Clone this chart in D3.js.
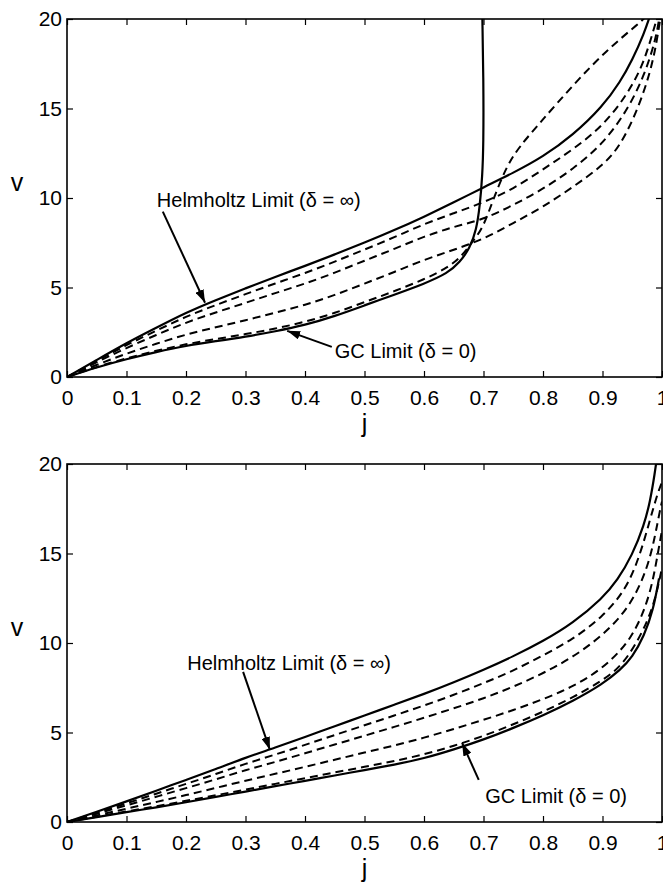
<!DOCTYPE html>
<html>
<head>
<meta charset="utf-8">
<script src="https://cdn.jsdelivr.net/npm/d3@7"></script>
<style>
  body { margin: 0; background: #fff; }
  svg text { font-family: "Liberation Sans", Arial, Helvetica, sans-serif; fill: #000; }
</style>
</head>
<body>
<div id="chart"></div>
<script>
// ---- data: [j, v] pairs ----
const topHelmholtz = [[0,0],[0.05,0.95],[0.1,1.9],[0.15,2.75],[0.2,3.6],[0.25,4.3],[0.3,4.95],[0.35,5.6],[0.4,6.2],[0.45,6.85],[0.5,7.5],[0.55,8.2],[0.6,8.95],[0.65,9.75],[0.7,10.6],[0.75,11.4],[0.8,12.3],[0.85,13.5],[0.9,15.1],[0.93,16.5],[0.95,17.7],[0.97,19.2],[0.98,20.2]];
const topGC = [[0,0],[0.05,0.55],[0.1,1.0],[0.15,1.4],[0.2,1.75],[0.25,2.0],[0.3,2.25],[0.35,2.55],[0.4,2.9],[0.45,3.4],[0.5,4.0],[0.55,4.6],[0.6,5.2],[0.64,5.8],[0.66,6.4],[0.677,7.2],[0.688,8.2],[0.694,9.6],[0.698,11.2],[0.7,13],[0.7,16.5],[0.698,20.2]];
const topDashed1 = [[0,0],[0.05,0.9],[0.1,1.79],[0.15,2.59],[0.2,3.38],[0.25,4.02],[0.3,4.63],[0.35,5.23],[0.4,5.8],[0.45,6.44],[0.5,7.12],[0.55,7.8],[0.6,8.55],[0.65,9.15],[0.7,9.75],[0.75,10.5],[0.8,11.6],[0.85,12.7],[0.9,14.0],[0.94,15.7],[0.968,17.4],[0.985,19.3],[0.993,20.2]];
const topDashed2 = [[0,0],[0.05,0.83],[0.1,1.63],[0.15,2.35],[0.2,3.05],[0.25,3.61],[0.3,4.14],[0.35,4.69],[0.4,5.21],[0.45,5.82],[0.5,6.5],[0.55,7.15],[0.6,7.85],[0.65,8.4],[0.7,8.8],[0.75,9.6],[0.8,10.5],[0.85,11.6],[0.9,13.0],[0.94,14.8],[0.97,16.8],[0.99,18.9],[0.996,20.2]];
const topDashed3 = [[0,0],[0.05,0.69],[0.1,1.31],[0.15,1.86],[0.2,2.38],[0.25,2.78],[0.3,3.17],[0.35,3.59],[0.4,4.02],[0.45,4.57],[0.5,5.22],[0.55,5.86],[0.6,6.55],[0.65,7.1],[0.7,7.7],[0.75,8.6],[0.8,9.5],[0.85,10.6],[0.9,11.8],[0.93,12.9],[0.96,15.0],[0.98,17.0],[0.99,18.5],[0.998,20.2]];
const topDashed4 = [[0,0],[0.05,0.57],[0.1,1.05],[0.15,1.47],[0.2,1.84],[0.25,2.12],[0.3,2.39],[0.35,2.7],[0.4,3.07],[0.45,3.57],[0.5,4.18],[0.55,4.79],[0.6,5.45],[0.64,6.1],[0.665,6.8],[0.68,7.5],[0.699,8.3],[0.716,9.9],[0.739,11.8],[0.761,12.9],[0.795,14.2],[0.85,16.3],[0.908,18.3],[0.963,19.8],[0.975,20.2]];

const botHelmholtz = [[0,0],[0.05,0.57],[0.1,1.15],[0.15,1.75],[0.2,2.35],[0.25,2.95],[0.3,3.6],[0.35,4.15],[0.4,4.75],[0.45,5.35],[0.5,5.95],[0.55,6.55],[0.6,7.15],[0.65,7.8],[0.7,8.5],[0.75,9.25],[0.8,10.1],[0.85,11.1],[0.9,12.5],[0.925,13.5],[0.95,14.9],[0.97,16.6],[0.98,17.9],[0.988,19.5],[0.992,20.5]];
const botGC = [[0,0],[0.05,0.27],[0.1,0.55],[0.15,0.82],[0.2,1.1],[0.25,1.4],[0.3,1.7],[0.35,2.0],[0.4,2.3],[0.45,2.6],[0.5,2.9],[0.55,3.2],[0.6,3.55],[0.65,4.05],[0.7,4.6],[0.75,5.25],[0.8,5.95],[0.85,6.75],[0.9,7.7],[0.93,8.5],[0.95,9.2],[0.97,10.4],[0.985,11.8],[0.995,13.6]];
const botDashed1 = [[0,0],[0.05,0.52],[0.1,1.04],[0.15,1.58],[0.2,2.13],[0.25,2.67],[0.3,3.26],[0.35,3.76],[0.4,4.31],[0.45,4.86],[0.5,5.4],[0.55,5.95],[0.6,6.5],[0.65,7.1],[0.7,7.75],[0.75,8.45],[0.8,9.3],[0.85,10.2],[0.9,11.45],[0.94,13.0],[0.963,14.9],[0.98,16.9],[0.992,18.3],[1.0,19.0]];
const botDashed2 = [[0,0],[0.05,0.46],[0.1,0.93],[0.15,1.41],[0.2,1.89],[0.25,2.38],[0.3,2.9],[0.35,3.35],[0.4,3.84],[0.45,4.33],[0.5,4.82],[0.55,5.31],[0.6,5.82],[0.65,6.35],[0.7,6.9],[0.75,7.55],[0.8,8.3],[0.85,9.2],[0.9,10.4],[0.946,12.0],[0.975,14.1],[0.988,15.9],[0.997,17.5],[1.0,17.9]];
const botDashed3 = [[0,0],[0.05,0.37],[0.1,0.74],[0.15,1.12],[0.2,1.5],[0.25,1.9],[0.3,2.31],[0.35,2.69],[0.4,3.08],[0.45,3.48],[0.5,3.88],[0.55,4.27],[0.6,4.7],[0.65,5.2],[0.7,5.7],[0.75,6.25],[0.8,6.85],[0.85,7.55],[0.9,8.55],[0.95,10.2],[0.98,12.6],[0.993,15.0],[1.0,16.3]];
const botDashed4 = [[0,0],[0.05,0.29],[0.1,0.59],[0.15,0.88],[0.2,1.18],[0.25,1.49],[0.3,1.81],[0.35,2.13],[0.4,2.45],[0.45,2.77],[0.5,3.08],[0.55,3.4],[0.6,3.77],[0.65,4.25],[0.7,4.8],[0.75,5.45],[0.8,6.15],[0.85,6.95],[0.9,7.9],[0.934,8.75],[0.968,10.6],[0.988,12.3],[1.0,14.2]];

const xTicks = [0,0.1,0.2,0.3,0.4,0.5,0.6,0.7,0.8,0.9,1];
const yTicks = [0,5,10,15,20];

// annotation anchors in data units: text position, arrow start, arrow tip
const topNotes = [
    { text: "Helmholtz Limit (\u03b4 = \u221e)", at: [0.151, 9.52], from: [0.161, 9.24], to: [0.232, 4.15] },
    { text: "GC Limit (\u03b4 = 0)", at: [0.45, 1.06], from: [0.445, 1.68], to: [0.37, 2.58] }
];
const botNotes = [
    { text: "Helmholtz Limit (\u03b4 = \u221e)", at: [0.202, 8.5], from: [0.296, 8.39], to: [0.341, 4.03] },
    { text: "GC Limit (\u03b4 = 0)", at: [0.703, 1.06], from: [0.692, 2.35], to: [0.664, 4.42] }
];

const W = 663, H = 884;
const margin = { left: 67, right: 1 };
const plotW = W - margin.left - margin.right;
const plotH = 358;

const svg = d3.select("#chart")
    .append("svg")
    .attr("width", W)
    .attr("height", H);

svg.append("defs")
    .append("marker")
    .attr("id", "arrowhead")
    .attr("markerUnits", "userSpaceOnUse")
    .attr("viewBox", "0 0 12 8")
    .attr("refX", 12)
    .attr("refY", 4)
    .attr("markerWidth", 13)
    .attr("markerHeight", 9)
    .attr("orient", "auto")
    .append("path")
    .attr("d", "M0,0 L12,4 L0,8 Z")
    .attr("fill", "#000");

function draw_panel(id, top, solids, dashes, notes, xLabelY)
{
    const g = svg.append("g")
        .attr("id", id)
        .attr("transform", `translate(${margin.left},${top})`);

    const xScale = d3.scaleLinear().domain([0, 1]).range([0, plotW]);
    const yScale = d3.scaleLinear().domain([0, 20]).range([plotH, 0]);

    g.append("clipPath")
        .attr("id", id + "-clip")
        .append("rect")
        .attr("width", plotW)
        .attr("height", plotH);

    const line = d3.line()
        .x(d => xScale(d[0]))
        .y(d => yScale(d[1]))
        .curve(d3.curveBasis);

    const curves = g.append("g").attr("clip-path", `url(#${id}-clip)`);

    curves.selectAll("path.dashed")
        .data(dashes)
        .enter()
        .append("path")
        .attr("class", "dashed")
        .attr("d", line)
        .attr("fill", "none")
        .attr("stroke", "#000")
        .attr("stroke-width", 2)
        .attr("stroke-dasharray", "8,5");

    curves.selectAll("path.solid")
        .data(solids)
        .enter()
        .append("path")
        .attr("class", "solid")
        .attr("d", line)
        .attr("fill", "none")
        .attr("stroke", "#000")
        .attr("stroke-width", 2.2);

    // axes, ticks pointing inward on all four sides
    g.append("g")
        .attr("transform", `translate(0,${plotH})`)
        .call(d3.axisBottom(xScale).tickValues(xTicks).tickFormat(d3.format("")).tickSizeInner(-6).tickSizeOuter(0).tickPadding(13));
    g.append("g")
        .call(d3.axisLeft(yScale).tickValues(yTicks).tickSizeInner(-6).tickSizeOuter(0).tickPadding(5));
    g.append("g")
        .call(d3.axisTop(xScale).tickValues(xTicks).tickFormat("").tickSizeInner(-6).tickSizeOuter(0));
    g.append("g")
        .attr("transform", `translate(${plotW},0)`)
        .call(d3.axisRight(yScale).tickValues(yTicks).tickFormat("").tickSizeInner(-6).tickSizeOuter(0));

    g.selectAll(".domain").remove();
    g.selectAll(".tick line").attr("stroke", "#000").attr("stroke-width", 1.2);
    g.selectAll(".tick text")
        .style("font-size", "21px")
        .attr("fill", "#000");

    g.append("rect")
        .attr("width", plotW)
        .attr("height", plotH)
        .attr("fill", "none")
        .attr("stroke", "#000")
        .attr("stroke-width", 1.6);

    // axis labels
    svg.append("text")
        .attr("x", margin.left + xScale(0.5))
        .attr("y", xLabelY)
        .attr("text-anchor", "middle")
        .style("font-size", "25px")
        .text("j");

    svg.append("text")
        .attr("x", 17)
        .attr("y", top + yScale(10) - 7)
        .attr("text-anchor", "middle")
        .style("font-size", "25px")
        .text("v");

    // annotations
    g.selectAll("text.note")
        .data(notes)
        .enter()
        .append("text")
        .attr("class", "note")
        .attr("x", d => xScale(d.at[0]))
        .attr("y", d => yScale(d.at[1]))
        .style("font-size", "20px")
        .text(d => d.text);

    g.selectAll("line.arrow")
        .data(notes)
        .enter()
        .append("line")
        .attr("class", "arrow")
        .attr("x1", d => xScale(d.from[0]))
        .attr("y1", d => yScale(d.from[1]))
        .attr("x2", d => xScale(d.to[0]))
        .attr("y2", d => yScale(d.to[1]))
        .attr("stroke", "#000")
        .attr("stroke-width", 2)
        .attr("marker-end", "url(#arrowhead)");
}

draw_panel("top-panel", 19, [topHelmholtz, topGC], [topDashed1, topDashed2, topDashed3, topDashed4], topNotes, 432);
draw_panel("bottom-panel", 464, [botHelmholtz, botGC], [botDashed1, botDashed2, botDashed3, botDashed4], botNotes, 877);
</script>
</body>
</html>
